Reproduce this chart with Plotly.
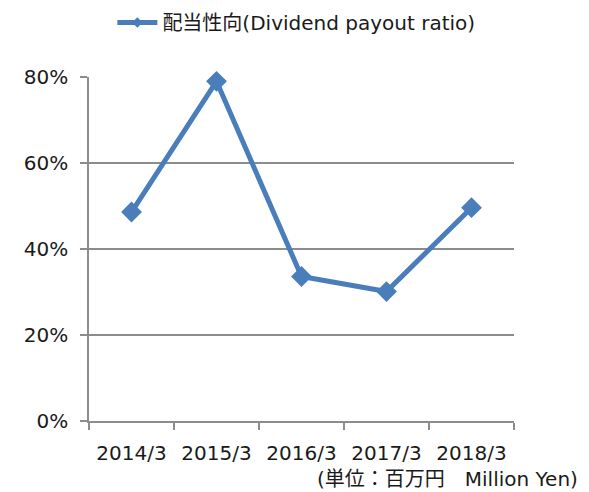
import plotly.graph_objects as go

categories = ["2014/3", "2015/3", "2016/3", "2017/3", "2018/3"]
payout_ratio = [48.6, 79.0, 33.6, 30.1, 49.6]
y_ticks = [0, 20, 40, 60, 80]
y_tick_labels = ["0%", "20%", "40%", "60%", "80%"]
series_name = "配当性向(Dividend payout ratio)"
unit_note = "(単位：百万円　Million Yen)"

FONT = "DejaVu Sans, Noto Sans CJK JP, sans-serif"
LINE_COLOR = "#4A7EBB"
GRID = "#8C8C8C"

fig = go.Figure()
fig.add_trace(go.Scatter(
    x=categories, y=payout_ratio, name=series_name,
    mode="lines+markers", showlegend=False,
    line=dict(color=LINE_COLOR, width=5),
    marker=dict(symbol="diamond", size=16, color=LINE_COLOR),
    cliponaxis=False,
))
# legend entry (smaller marker as in the reference legend)
fig.add_trace(go.Scatter(
    x=[None], y=[None], name=series_name,
    mode="lines+markers",
    line=dict(color=LINE_COLOR, width=5),
    marker=dict(symbol="diamond", size=8, color=LINE_COLOR),
))

fig.update_layout(
    width=589, height=492,
    margin=dict(l=89, r=75, t=77, b=71, autoexpand=False),
    paper_bgcolor="white", plot_bgcolor="white",
    font=dict(family=FONT, size=20, color="#1a1a1a"),
    showlegend=True,
    legend=dict(orientation="h", x=0.055, xanchor="left", y=1.215, yanchor="top",
                font=dict(size=20), itemwidth=40, bgcolor="rgba(0,0,0,0)"),
    xaxis=dict(type="category", range=[-0.5, 4.5], tickson="boundaries",
               ticks="outside", ticklen=7, tickcolor=GRID, tickwidth=1.5,
               showline=True, linecolor=GRID, linewidth=1.5,
               showgrid=False, tickfont=dict(size=20), ticklabelstandoff=13,
               fixedrange=True),
    yaxis=dict(range=[0, 80], tickvals=y_ticks, ticktext=y_tick_labels,
               ticks="outside", ticklen=7, tickcolor=GRID, tickwidth=1.5,
               showline=True, linecolor=GRID, linewidth=1.5,
               showgrid=True, gridcolor=GRID, gridwidth=1.5,
               zeroline=False, tickfont=dict(size=20), ticklabelstandoff=8,
               fixedrange=True),
)

fig.add_annotation(text=unit_note, xref="paper", yref="paper",
                   x=1.155, y=-0.17, xanchor="right", yanchor="middle",
                   showarrow=False, font=dict(size=20))

fig.write_html("out.html")
